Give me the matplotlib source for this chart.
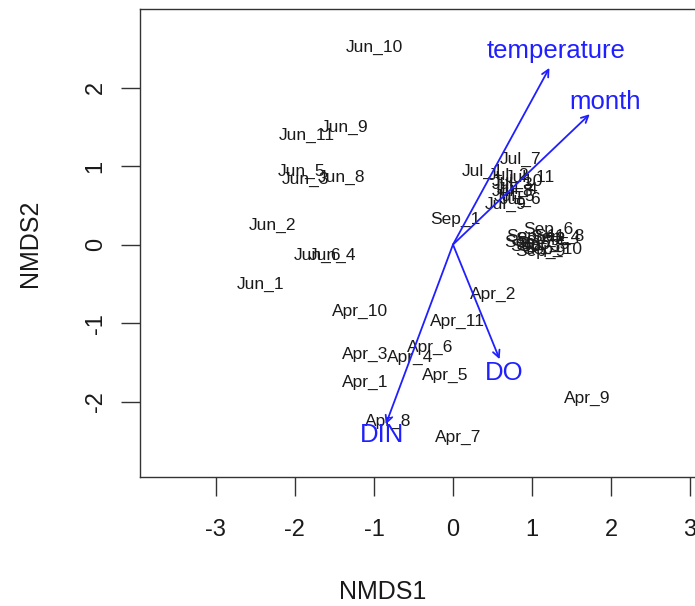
import matplotlib
matplotlib.use("Agg")
import matplotlib.pyplot as plt

plt.rcParams['font.family'] = ['Liberation Sans', 'DejaVu Sans']

# Sample scores (NMDS1, NMDS2)
labels = ["Jun_10", "Jun_9", "Jun_11", "Jun_5", "Jun_3", "Jun_8", "Jun_2", "Jun_6", "Jun_4", "Jun_1",
          "Apr_10", "Apr_2", "Apr_11", "Apr_6", "Apr_3", "Apr_4", "Apr_5", "Apr_1", "Apr_8", "Apr_7", "Apr_9",
          "Sep_1",
          "Jul_1", "Jul_2", "Jul_3", "Jul_4", "Jul_5", "Jul_6", "Jul_7", "Jul_8", "Jul_9", "Jul_10", "Jul_11",
          "Sep_2", "Sep_3", "Sep_4", "Sep_5", "Sep_6", "Sep_7", "Sep_8", "Sep_9", "Sep_10", "Sep_11"]
nmds1 = [-0.99, -1.37, -1.85, -1.91, -1.87, -1.41, -2.28, -1.71, -1.52, -2.44,
         -1.18, 0.51, 0.06, -0.29, -1.11, -0.54, -0.10, -1.11, -0.82, 0.06, 1.70,
         0.03,
         0.37, 0.70, 0.75, 0.82, 0.78, 0.85, 0.85, 0.75, 0.66, 0.82, 0.97,
         1.10, 1.04, 1.29, 1.16, 1.20, 0.97, 1.35, 1.10, 1.25, 1.04]
nmds2 = [2.51, 1.49, 1.39, 0.93, 0.83, 0.85, 0.25, -0.14, -0.14, -0.51,
         -0.85, -0.64, -0.98, -1.31, -1.40, -1.44, -1.67, -1.76, -2.25, -2.45, -1.96,
         0.32,
         0.93, 0.88, 0.76, 0.70, 0.61, 0.57, 1.08, 0.68, 0.51, 0.80, 0.85,
         0.06, -0.03, 0.09, 0.00, 0.19, 0.03, 0.11, -0.09, -0.06, 0.10]

# Environmental vectors
env_names = ["temperature", "month", "DO", "DIN"]
env_x = [1.22, 1.73, 0.59, -0.85]
env_y = [2.25, 1.66, -1.46, -2.29]
env_lab_x = [1.30, 1.92, 0.65, -0.90]
env_lab_y = [2.46, 1.81, -1.64, -2.43]

xticks = [-3, -2, -1, 0, 1, 2, 3]
yticks = [-2, -1, 0, 1, 2]

W, H = 695, 606
fig = plt.figure(figsize=(W / 100, H / 100), dpi=100)
left, right, top, bottom = 140, 698, 9, 477
ax = fig.add_axes([left / W, 1 - bottom / H, (right - left) / W, (bottom - top) / H])
ax.set_xlim(-3.96, 3.10)
ax.set_ylim(-2.96, 3.0)

for lab, x, y in zip(labels, nmds1, nmds2):
    ax.text(x, y, lab, ha='center', va='center', fontsize=12.5, color='#1a1a1a')

for name, x, y, lx, ly in zip(env_names, env_x, env_y, env_lab_x, env_lab_y):
    ax.annotate("", xy=(x, y), xytext=(0, 0),
                arrowprops=dict(arrowstyle='->,head_length=0.5,head_width=0.25',
                                color='#1f1fff', lw=1.3, shrinkA=0, shrinkB=0))
    ax.text(lx, ly, name, ha='center', va='center', fontsize=18.5, color='#1f1fff')

ax.set_xticks(xticks)
ax.set_yticks(yticks)
ax.set_xticklabels([str(t) for t in xticks])
ax.set_yticklabels([str(t) for t in yticks], rotation=90, va='center')
ax.tick_params(axis='both', length=14, width=1, labelsize=17, color='#333333', labelcolor='#1a1a1a')
ax.tick_params(axis='x', pad=16)
ax.tick_params(axis='y', pad=10)
for s in ax.spines.values():
    s.set_linewidth(1)
    s.set_color('#333333')

fig.text(383 / W, 1 - 592 / H, "NMDS1", ha='center', va='center', fontsize=18, color='#1a1a1a')
fig.text(30 / W, 1 - 243 / H, "NMDS2", ha='center', va='center', fontsize=18, color='#1a1a1a', rotation=90)

fig.savefig("out.png", dpi=100)
